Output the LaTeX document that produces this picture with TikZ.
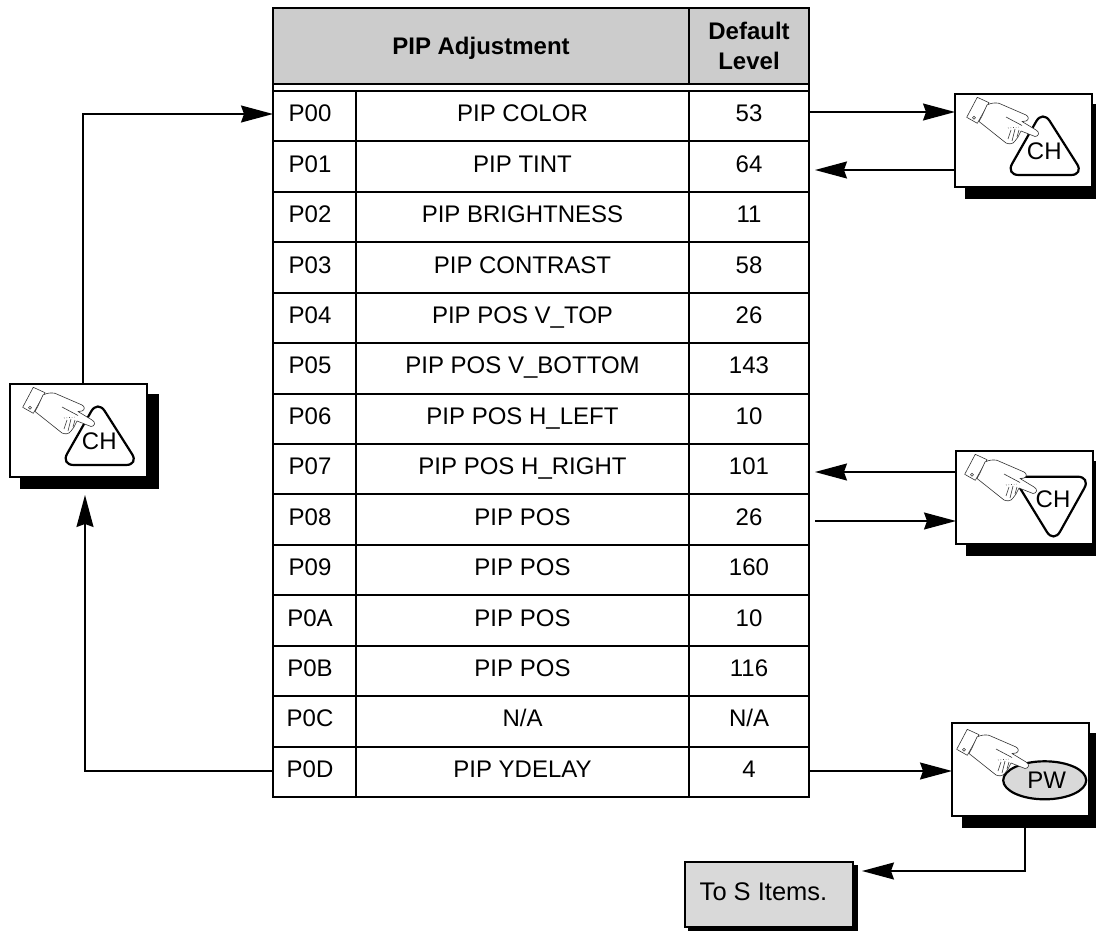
\documentclass[tikz,border=0pt]{standalone}
\usepackage{fontspec}
\setmainfont{Liberation Sans}
\usetikzlibrary{arrows.meta,shadows,shapes.geometric}
\definecolor{hdr}{gray}{0.8}
\definecolor{pale}{gray}{0.85}
\tikzset{
  x=1pt,y=-1pt,
  txt/.style={font=\fontsize{24}{28}\selectfont},
  cell/.style={draw=black,line width=2pt,anchor=north west,inner sep=0pt,outer sep=0pt,txt,text height=17pt,text depth=6pt,minimum height=50.43pt,align=center},
  btn/.style={draw=black,line width=2pt,fill=white,anchor=north west,inner sep=0pt,outer sep=0pt,minimum width=137pt,minimum height=93pt,
    copy shadow={shadow xshift=11pt,shadow yshift=-11pt,fill=black,draw=black}},
  link/.style={draw=black,line width=1.4pt},
  arr/.style={link,-{Stealth[length=32pt,width=17pt,inset=3pt]}},
  handline/.style={line width=0.6pt,draw=black!80},
  pics/hand/.style={code={
    \draw[handline,fill=white,line join=round] (23.3,3.3) -- (12.7,23.3) -- (23.3,29.3) -- (35,8.7) -- cycle;
    \draw[handline] (20,23.7) circle (1.5);
    \draw[handline,fill=white,line join=round] (33,11) .. controls (37,9) and (41,8.5) .. (45,9.3) -- (72,21)
      .. controls (75,22.5) and (75,26) .. (72,27) -- (68,27.5) -- (82,36) .. controls (86,38) and (85,42.5) .. (81,42.5)
      -- (67,37) -- (64,43) -- (61,47) .. controls (59,50) and (56,50.5) .. (52,49) -- (25,27.5) -- (28,22) -- cycle;
    \draw[handline] (52,23) -- (68,31.5);
    \draw[handline,dotted] (54,34) -- (66,33);
    \draw[handline] (57,36) -- (54,45) (61,35) -- (58,47) (65,36) -- (63,43);
  }},
  tri/.style={draw=black,line width=2.2pt,rounded corners=13pt,fill=white},
  keytext/.style={txt,inner sep=0pt,outer sep=0pt},
}
\newcommand{\row}[4]{%
  \node[cell,minimum width=83pt] (c#2) at (273,{91+50.43*#1}) {\hspace*{-9pt}P#2};
  \node[cell,minimum width=333pt] (n#2) at (356,{91+50.43*#1}) {#3};
  \node[cell,minimum width=120pt] (v#2) at (689,{91+50.43*#1}) {#4};
}
\begin{document}
\begin{tikzpicture}
\useasboundingbox (0,0) rectangle (1096,931);
% header
\node[draw=black,line width=2pt,fill=hdr,anchor=north west,inner sep=0pt,outer sep=0pt,minimum width=416pt,minimum height=76pt,font=\fontsize{24}{28}\selectfont\bfseries,text height=17pt,text depth=0pt] (hname) at (273,8) {PIP Adjustment};
\node[draw=black,line width=2pt,fill=hdr,anchor=north west,inner sep=0pt,outer sep=0pt,minimum width=120pt,minimum height=76pt,font=\fontsize{24}{30}\selectfont\bfseries,align=center] (hval) at (689,8) {Default\\Level};
% table
\row{0}{00}{PIP COLOR}{53}
\row{1}{01}{PIP TINT}{64}
\row{2}{02}{PIP BRIGHTNESS}{11}
\row{3}{03}{PIP CONTRAST}{58}
\row{4}{04}{PIP POS V\_TOP}{26}
\row{5}{05}{PIP POS V\_BOTTOM}{143}
\row{6}{06}{PIP POS H\_LEFT}{10}
\row{7}{07}{PIP POS H\_RIGHT}{101}
\row{8}{08}{PIP POS}{26}
\row{9}{09}{PIP POS}{160}
\row{10}{0A}{PIP POS}{10}
\row{11}{0B}{PIP POS}{116}
\row{12}{0C}{N/A}{N/A}
\row{13}{0D}{PIP YDELAY}{4}
\draw[line width=2pt] (hname.south west) -- (c00.north west);
\draw[line width=2pt] (hval.south east) -- (v00.north east);
% key: CH up, right
\node[btn] (kup) at (955,94) {};
\draw[tri] (955+87.7,94+16) -- (955+129,94+81) -- (955+50.7,94+81) -- cycle;
\node[keytext] (kuptext) at (955+89.3,94+57.7) {CH};
\pic at (955-1,94) {hand};
% key: CH up, left
\node[btn] (kleft) at (10,384) {};
\draw[tri] (10+87.7,384+16) -- (10+129,384+81) -- (10+50.7,384+81) -- cycle;
\node[keytext] (klefttext) at (10+89.3,384+57.7) {CH};
\pic at (10,384) {hand};
% key: CH down
\node[btn] (kdown) at (956,451) {};
\draw[tri] (956+57,451+25.7) -- (956+134.7,451+25.7) -- (956+97.7,451+92) -- cycle;
\node[keytext] (kdowntext) at (956+97,451+48.3) {CH};
\pic at (956-4,451) {hand};
% key: PW
\node[btn] (kpw) at (952,723) {};
\node[draw=black,line width=2.2pt,fill=pale,ellipse,inner sep=0pt,outer sep=0pt,minimum width=83pt,minimum height=38pt] (pwe) at (952+92.7,723+57.3) {};
\node[keytext] (pwtext) at (952+94.7,723+57.3) {PW};
\pic at (952-8,723+3) {hand};
% To S Items
\node[draw=black,line width=2pt,fill=pale,anchor=north west,inner sep=0pt,outer sep=0pt,minimum width=168pt,minimum height=65pt,
  copy shadow={shadow xshift=4pt,shadow yshift=-4pt,fill=black,draw=black}] (sitems) at (685,862) {};
\node[font=\fontsize{25.5}{28}\selectfont,inner sep=0pt] (sitemstext) at (763.5,892) {To S Items.};
% free ends
\coordinate (e1) at (955,112);
\coordinate (e2a) at (955,170);
\coordinate (e2b) at (815,170);
\coordinate (e3a) at (956,472);
\coordinate (e3b) at (815,472);
\coordinate (e4a) at (815,521);
\coordinate (e4b) at (956,521);
\coordinate (e5) at (952,771);
\coordinate (l1) at (85,771);
\coordinate (l2) at (85,495);
\coordinate (l3) at (83,384);
\coordinate (l4) at (83,114);
\coordinate (p1) at (1025,828);
\coordinate (p2) at (1025,871);
\coordinate (p3) at (862,871);
% connectors
\draw[arr] (v00.east |- e1) -- (e1);
\draw[arr] (e2a) -- (e2b);
\draw[arr] (e3a) -- (e3b);
\draw[arr] (e4a) -- (e4b);
\draw[arr] (v0D.east |- e5) -- (e5);
\draw[arr] (c0D.west |- l1) -- (l1) -- (l2);
\draw[arr] (l3) -- (l4) -- (c00.west |- l4);
\draw[arr] (p1) -- (p2) -- (p3);
\end{tikzpicture}
\end{document}
